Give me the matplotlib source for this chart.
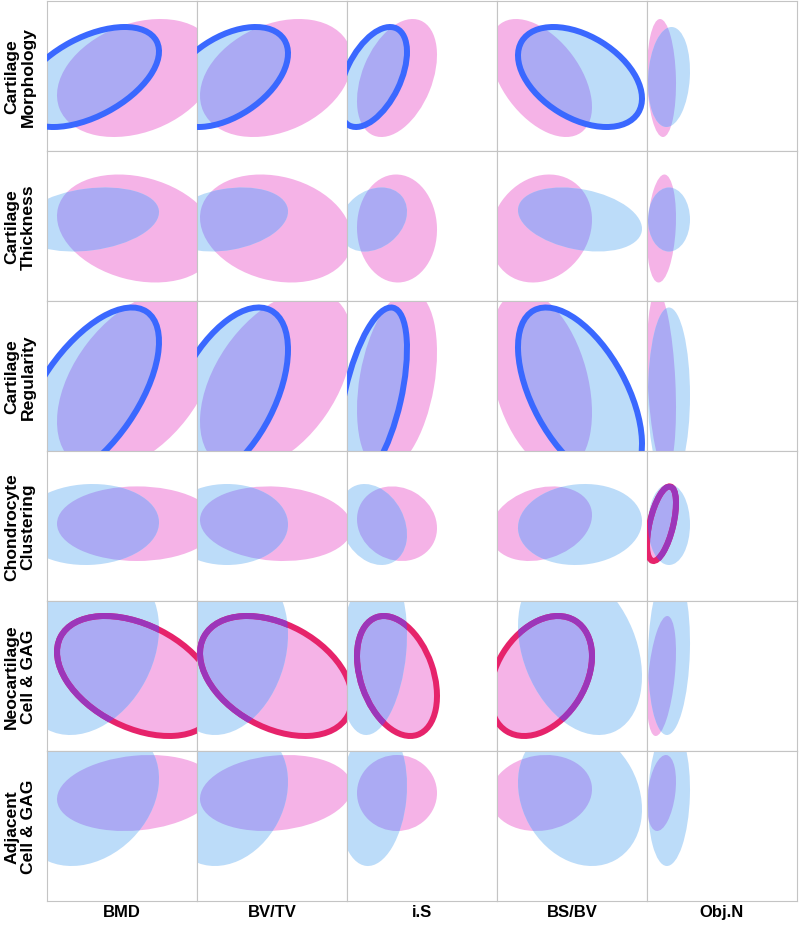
import numpy as np
import matplotlib
matplotlib.use("Agg")
import matplotlib.pyplot as plt
from matplotlib.patches import Ellipse

row_labels = ["Cartilage\nMorphology", "Cartilage\nThickness", "Cartilage\nRegularity",
              "Chondrocyte\nClustering", "Neocartilage\nCell & GAG", "Adjacent\nCell & GAG"]
col_labels = ["BMD", "BV/TV", "i.S", "BS/BV", "Obj.N"]

# horizontal spread per column (panel units 0-150)
pink_cx = [90, 79, 50, 44, 14.5]
pink_sx = [80, 76, 40, 51, 14.5]
blue_cx = [42, 30, 26, 83, 22]
blue_sx = [70, 61, 34, 62, 21]

# vertical spread per row (panel units, y up)
pink_cy = [73, 72.5, 70, 77.3, 75, 108]
pink_sy = [59, 54, 90, 37.3, 60, 38]
blue_cy = [74, 81.5, 55.5, 76.5, 100, 105]
blue_sy = [50, 32, 88, 40.5, 84, 70]

pink_rho = [[0.29, 0.30, 0.39, -0.49, -0.10],
            [-0.23, -0.20, -0.02, 0.16, 0.20],
            [0.45, 0.45, 0.32, -0.35, -0.30],
            [0.00, -0.10, -0.12, 0.23, 0.55],
            [-0.40, -0.38, -0.33, 0.33, 0.40],
            [0.16, 0.15, 0.00, 0.10, 0.30]]
blue_rho = [[0.51, 0.47, 0.50, -0.43, 0.12],
            [0.23, 0.25, 0.25, -0.29, 0.00],
            [0.61, 0.52, 0.53, -0.55, 0.00],
            [0.05, 0.00, -0.25, 0.08, 0.00],
            [0.27, 0.20, 0.20, -0.30, 0.10],
            [0.25, 0.20, 0.15, -0.19, 0.10]]

# which ellipse gets an outline
outline = [["B", "B", "B", "B", ""],
           ["", "", "", "", ""],
           ["B", "B", "B", "B", ""],
           ["", "", "", "", "P"],
           ["P", "P", "P", "P", ""],
           ["", "", "", "", ""]]

PINK = "#f5b3e7"
BLUE = "#bcdcf9"
OVER = "#abaaf3"
LINE_B = "#3a68ff"
LINE_P = "#e6236b"
LINE_PB = "#9c36ba"
GRID = "#c4c4c4"


def ell(cx, cy, sx, sy, rho, **kw):
    cov = np.array([[sx * sx, rho * sx * sy], [rho * sx * sy, sy * sy]])
    vals, vecs = np.linalg.eigh(cov)
    ang = np.degrees(np.arctan2(vecs[1, 1], vecs[0, 1]))
    return Ellipse((cx, cy), 2 * np.sqrt(vals[1]), 2 * np.sqrt(vals[0]), angle=ang, **kw)


W, H = 800, 928
fig = plt.figure(figsize=(W / 100, H / 100), dpi=100)
plt.rcParams['font.family'] = ['Liberation Sans', 'DejaVu Sans']

x0, y0, cell = 47, 2, 150
lw = 4.3

for r in range(6):
    for c in range(5):
        ax = fig.add_axes([(x0 + c * cell) / W, 1 - (y0 + (r + 1) * cell) / H, cell / W, cell / H])
        ax.set_xlim(0, 150)
        ax.set_ylim(0, 150)
        ax.set_xticks([])
        ax.set_yticks([])
        for s in ax.spines.values():
            s.set_color(GRID)
            s.set_linewidth(0.8)

        pargs = (pink_cx[c], pink_cy[r], pink_sx[c], pink_sy[r], pink_rho[r][c])
        bargs = (blue_cx[c], blue_cy[r], blue_sx[c], blue_sy[r], blue_rho[r][c])

        pk = ax.add_patch(ell(*pargs, facecolor=PINK, edgecolor="none", zorder=1))
        bl = ax.add_patch(ell(*bargs, facecolor=BLUE, edgecolor="none", zorder=2))
        ov = ax.add_patch(ell(*bargs, facecolor=OVER, edgecolor="none", zorder=3))
        ov.set_clip_path(pk)  # overlap area

        if outline[r][c] == "B":
            ax.add_patch(ell(*bargs, fill=False, edgecolor=LINE_B, lw=lw, zorder=6))
        elif outline[r][c] == "P":
            ax.add_patch(ell(*pargs, fill=False, edgecolor=LINE_P, lw=lw, zorder=4))
            pu = ax.add_patch(ell(*pargs, fill=False, edgecolor=LINE_PB, lw=lw, zorder=5))
            pu.set_clip_path(bl)

for r, lab in enumerate(row_labels):
    fig.text(20 / W, 1 - (y0 + r * cell + 75) / H, lab, rotation=90, ha="center", va="center",
             multialignment="center", fontsize=12.6, fontweight="bold", linespacing=1.12)

for c, lab in enumerate(col_labels):
    fig.text((x0 + c * cell + 75) / W, 1 - 913 / H, lab, ha="center", va="center",
             fontsize=12, fontweight="bold")

fig.savefig("out.png", dpi=100)
